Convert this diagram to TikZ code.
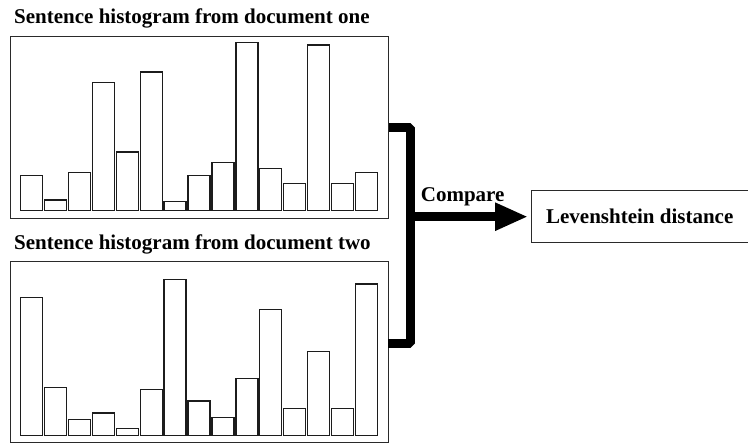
\documentclass[tikz,border=0pt]{standalone}
\usepackage{fontspec}
\setmainfont{Liberation Serif}
\usetikzlibrary{arrows.meta,positioning,calc}
\definecolor{ink}{HTML}{1C1C1C}
\definecolor{frame}{HTML}{2A2A2A}
\tikzset{
  histbox/.style={rectangle,draw=frame,line width=1pt,fill=white,anchor=north west,
    inner sep=0pt,minimum width=378pt},
  histbar/.style={draw=ink,line width=1.4pt,fill=white},
  histtitle/.style={font=\fontsize{21}{24}\selectfont\bfseries,text=black,
    anchor=base west,inner sep=0pt},
  resultbox/.style={rectangle,draw=frame,line width=1pt,fill=white,anchor=west,
    font=\fontsize{21}{24}\selectfont\bfseries,text=black,
    minimum width=216.5pt,minimum height=51.6pt,inner sep=0pt},
  joinline/.style={line width=9pt,draw=black,line join=bevel},
  cmparr/.style={-{Triangle[length=33pt,width=26pt]},line width=9pt,color=black,shorten >=3pt},
}

\begin{document}
\begin{tikzpicture}[x=1pt,y=-1pt]
  \useasboundingbox (0,0) rectangle (748,443);

  \node[histtitle] (titleone) at (14,23.3) {Sentence histogram from document one};
  \node[histbox,minimum height=182pt] (histone) at (10,36) {};
  \foreach \h [count=\i from 0] in {175.7,200,172.7,82.7,152,72,201.3,175.7,162.3,42.3,168.7,183.3,45,183.3,172.7}
    \draw[histbar] ({20.7+23.9*\i},210.7) rectangle ({42.7+23.9*\i},\h);

  \node[histtitle] (titletwo) at (14,249.3) {Sentence histogram from document two};
  \node[histbox,minimum height=181.5pt] (histtwo) at (10,261) {};
  \foreach \h [count=\i from 0] in {297.7,387.7,419.3,413,428.7,389.3,279.3,401,417.7,378.7,309.3,408.7,351.7,408.7,284}
    \draw[histbar] ({20.7+23.9*\i},435.5) rectangle ({42.7+23.9*\i},\h);

  \node[resultbox] (lev) at (531,216.5) {Levenshtein distance};

  \coordinate (jn) at (410.5,216.7);
  \coordinate (lowtap) at (388,343.5);
  \draw[joinline] (histone.east) -| (jn) |- (lowtap);
  \draw[cmparr] (jn) -- (jn -| lev.west);
  \node[histtitle] (cmp) at (420.7,201.7) {Compare};
\end{tikzpicture}
\end{document}
